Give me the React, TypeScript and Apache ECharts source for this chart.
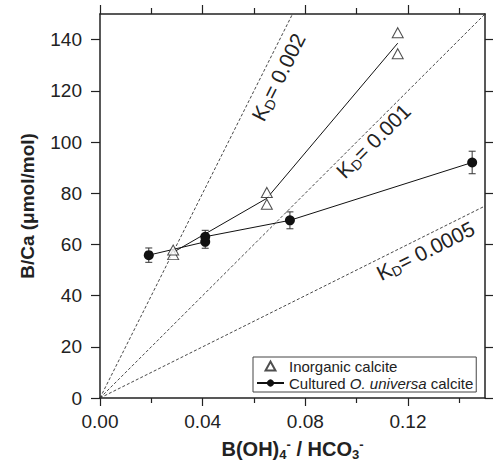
import React, { useEffect, useRef } from 'react';
import * as echarts from 'echarts';

// ---- data ----
const xMajorTicks = [0, 0.04, 0.08, 0.12];
const xMinorTicks = [0.02, 0.06, 0.1, 0.14];
const yTicks = [0, 20, 40, 60, 80, 100, 120, 140];

const inorganicX = [0.0285, 0.0285, 0.065, 0.065, 0.116, 0.116];
const inorganicY = [56.0, 57.8, 80.3, 75.7, 142.7, 134.5];
const inorganicMeanX = [0.0285, 0.065, 0.116];
const inorganicMeanY = [56.9, 78.0, 138.6];

const culturedX = [0.019, 0.041, 0.041, 0.074, 0.145];
const culturedY = [55.8, 61.0, 63.0, 69.4, 92.0];
const culturedErr = [2.8, 2.5, 2.5, 3.3, 4.4];

const kdValues = [0.002, 0.001, 0.0005];
const kdLineEndX = [0.075, 0.15, 0.15];
const kdLabels = ['0.002', '0.001', '0.0005'];
const kdLabelX = [0.0697, 0.1067, 0.127];
const kdLabelY = [125.2, 100.2, 57.3];

const inorganicName = 'Inorganic calcite';
const culturedName = 'Cultured O. universa calcite';

const FONT = '"Liberation Sans", Arial, Helvetica, sans-serif';
const INK = '#222';

export default function App() {
  const ref = useRef<HTMLDivElement>(null);

  useEffect(() => {
    if (!ref.current) return;
    const chart = echarts.init(ref.current, null, { renderer: 'svg' });

    const kdLineSeries = kdValues.map((kd, i) => ({
      type: 'line',
      name: 'kd' + i,
      data: [
        [0, 0],
        [kdLineEndX[i], kd * 1e6 * kdLineEndX[i]],
      ],
      showSymbol: false,
      symbol: 'none',
      lineStyle: { color: '#333', width: 0.9, type: [3, 2] },
      z: 1,
      silent: true,
    }));

    const kdRot = kdValues.map((kd) => {
      const plotW = 385;
      const plotH = 384;
      const s = (kd * 1e6 * plotH) / 150 / (plotW / 0.15);
      return (Math.atan(s) * 180) / Math.PI;
    });

    const kdText = { fontFamily: FONT, color: INK, textBorderWidth: 0, opacity: 1 };

    const kdLabelSeries = {
      type: 'scatter',
      name: 'kdLabels',
      symbolSize: 1,
      silent: true,
      z: 3,
      itemStyle: { color: 'rgba(0,0,0,0)', opacity: 1 },
      data: kdLabels.map((t, i) => ({
        value: [kdLabelX[i], kdLabelY[i]],
        label: {
          show: true,
          position: [0, 0],
          align: 'center',
          verticalAlign: 'middle',
          rotate: kdRot[i],
          color: INK,
          opacity: 1,
          textBorderWidth: 0,
          formatter: '{k|K}{d|D}{k|= ' + t + '}',
          rich: {
            k: { ...kdText, fontSize: 21, lineHeight: 22 },
            d: { ...kdText, fontSize: 14, lineHeight: 14, padding: [10, 0, 0, 0] },
          },
        },
      })),
    };

    const option: any = {
      animation: false,
      backgroundColor: '#fff',
      grid: { left: 100, right: 8, top: 14, bottom: 69, containLabel: false },
      xAxis: [
        {
          type: 'value',
          position: 'bottom',
          min: 0,
          max: 0.15,
          name: '{b|B(OH)}{sub|4}{sup|-}{b| / HCO}{sub|3}{sup|-}',
          nameLocation: 'middle',
          nameGap: 40,
          nameTextStyle: {
            rich: {
              b: { fontSize: 20, fontWeight: 'bold', fontFamily: FONT, color: INK, lineHeight: 22 },
              sub: {
                fontSize: 13,
                fontWeight: 'bold',
                fontFamily: FONT,
                color: INK,
                lineHeight: 13,
                padding: [10, 0, 0, 0],
              },
              sup: {
                fontSize: 13,
                fontWeight: 'bold',
                fontFamily: FONT,
                color: INK,
                lineHeight: 13,
                padding: [0, 0, 10, 0],
              },
            },
          },
          axisLine: { show: true, onZero: false, lineStyle: { color: INK, width: 1.5 } },
          axisTick: { show: true, length: 8, customValues: xMajorTicks, lineStyle: { color: INK, width: 1.2 } },
          axisLabel: {
            show: true,
            customValues: xMajorTicks,
            margin: 14,
            fontSize: 19,
            fontFamily: FONT,
            color: INK,
            formatter: (v: number) => v.toFixed(2),
          },
          splitLine: { show: false },
        },
        {
          type: 'value',
          position: 'bottom',
          min: 0,
          max: 0.15,
          axisLine: { show: false, onZero: false },
          axisTick: { show: true, length: 5, customValues: xMinorTicks, lineStyle: { color: INK, width: 1.2 } },
          axisLabel: { show: false },
          splitLine: { show: false },
        },
        {
          type: 'value',
          position: 'top',
          min: 0,
          max: 0.15,
          axisLine: { show: true, onZero: false, lineStyle: { color: INK, width: 1.5 } },
          axisTick: { show: true, length: 9, customValues: xMajorTicks, lineStyle: { color: INK, width: 1.2 } },
          axisLabel: { show: false },
          splitLine: { show: false },
        },
        {
          type: 'value',
          position: 'top',
          min: 0,
          max: 0.15,
          axisLine: { show: false, onZero: false },
          axisTick: { show: true, length: 6, customValues: xMinorTicks, lineStyle: { color: INK, width: 1.2 } },
          axisLabel: { show: false },
          splitLine: { show: false },
        },
      ],
      yAxis: [
        {
          type: 'value',
          position: 'left',
          min: 0,
          max: 150,
          name: 'B/Ca (μmol/mol)',
          nameLocation: 'middle',
          nameGap: 63,
          nameTextStyle: { fontSize: 19, fontWeight: 'bold', fontFamily: FONT, color: INK },
          axisLine: { show: true, onZero: false, lineStyle: { color: INK, width: 1.5 } },
          axisTick: { show: true, length: 9, customValues: yTicks, lineStyle: { color: INK, width: 1.2 } },
          axisLabel: {
            show: true,
            customValues: yTicks,
            margin: 18,
            fontSize: 19,
            fontFamily: FONT,
            color: INK,
          },
          splitLine: { show: false },
        },
        {
          type: 'value',
          position: 'right',
          min: 0,
          max: 150,
          axisLine: { show: true, onZero: false, lineStyle: { color: INK, width: 1.5 } },
          axisTick: { show: true, length: 8, customValues: yTicks, lineStyle: { color: INK, width: 1.2 } },
          axisLabel: { show: false },
          splitLine: { show: false },
        },
      ],
      legend: {
        data: [
          { name: inorganicName, icon: 'path://M0,10 L5.5,0 L11,10 Z' },
          { name: culturedName },
        ],
        orient: 'vertical',
        left: 253,
        top: 357,
        itemWidth: 27,
        itemHeight: 9,
        itemGap: 1,
        symbolKeepAspect: true,
        padding: [1, 3, 1, 3],
        borderColor: '#444',
        borderWidth: 1,
        backgroundColor: '#fff',
        textStyle: {
          fontSize: 15,
          fontFamily: FONT,
          color: INK,
          lineHeight: 16,
          rich: {
            n: { fontSize: 15, fontFamily: FONT, color: INK, lineHeight: 16 },
            i: { fontSize: 15, fontFamily: FONT, color: INK, fontStyle: 'italic', lineHeight: 16 },
          },
        },
        formatter: (name: string) =>
          name === culturedName ? '{n|Cultured }{i|O. universa}{n| calcite}' : '{n|' + name + '}',
      },
      series: [
        ...kdLineSeries,
        {
          type: 'line',
          name: 'inorganicMean',
          data: inorganicMeanX.map((x, i) => [x, inorganicMeanY[i]]),
          symbol: 'none',
          lineStyle: { color: '#111', width: 1 },
          z: 2,
          silent: true,
        },
        {
          type: 'custom',
          name: 'errors',
          data: culturedX.map((x, i) => [x, culturedY[i], culturedErr[i]]),
          z: 3,
          silent: true,
          renderItem: (params: any, api: any) => {
            const x = api.value(0);
            const y = api.value(1);
            const e = api.value(2);
            const top = api.coord([x, y + e]);
            const bot = api.coord([x, y - e]);
            const hw = 3.5;
            const style = { stroke: '#333', lineWidth: 1 };
            return {
              type: 'group',
              children: [
                { type: 'line', shape: { x1: top[0], y1: top[1], x2: bot[0], y2: bot[1] }, style },
                { type: 'line', shape: { x1: top[0] - hw, y1: top[1], x2: top[0] + hw, y2: top[1] }, style },
                { type: 'line', shape: { x1: bot[0] - hw, y1: bot[1], x2: bot[0] + hw, y2: bot[1] }, style },
              ],
            };
          },
        },
        {
          type: 'line',
          name: culturedName,
          data: culturedX.map((x, i) => [x, culturedY[i]]),
          symbol: 'circle',
          symbolSize: 10,
          showSymbol: true,
          itemStyle: { color: '#111' },
          lineStyle: { color: '#111', width: 1 },
          z: 4,
        },
        {
          type: 'scatter',
          name: inorganicName,
          data: inorganicX.map((x, i) => [x, inorganicY[i]]),
          symbol: 'triangle',
          symbolSize: [11, 10],
          itemStyle: { color: '#fff', borderColor: '#222', borderWidth: 1 },
          z: 5,
        },
        kdLabelSeries,
      ],
    };

    chart.setOption(option);
    return () => chart.dispose();
  }, []);

  return (
    <div
      ref={ref}
      style={{ position: 'fixed', left: 0, top: 0, width: 493, height: 467 }}
    />
  );
}
